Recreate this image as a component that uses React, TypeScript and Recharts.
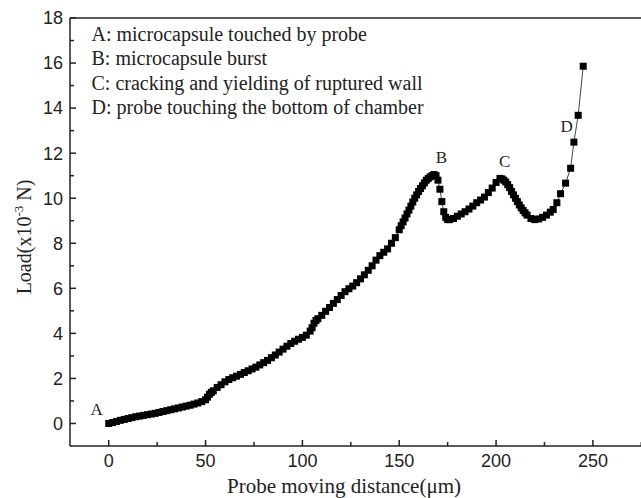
import { ScatterChart, Scatter, XAxis, YAxis, ReferenceLine } from "recharts";

// probe moving distance (µm) and load (x10^-3 N)
const distance = [
  0, 2, 4, 6, 8, 10, 12, 14, 16, 18, 20, 22, 24, 26, 28, 30, 32, 34, 36, 38, 40, 42, 44, 46, 48,
  50, 51, 52, 53, 54, 56, 58, 60, 62, 64, 66, 68, 70, 72, 74, 76, 78, 80, 82, 84, 86, 88, 90, 92, 94,
  96, 98, 100, 102, 104, 105, 106, 107, 108, 110, 112, 114, 116, 118, 120, 122, 124, 126, 128, 130,
  132, 134, 136, 138, 140, 142, 144, 146, 148,
  150, 151, 152, 153, 154, 155, 156, 157, 158, 159, 160, 161, 162, 163, 164, 165, 166, 167, 168,
  169, 170, 171, 172, 173, 174, 175, 176, 178, 180, 182, 184, 186, 188, 190, 192, 194, 196, 198,
  200, 202, 203, 204, 205, 206, 207, 208, 209, 210, 211, 212, 213, 214, 215, 216, 218, 220, 222,
  224, 226, 228, 229.5, 231.4, 233.3, 235.9, 238.5, 240.2, 242.4, 245,
];
const load = [
  0, 0.04, 0.09, 0.14, 0.18, 0.22, 0.26, 0.3, 0.33, 0.36, 0.39, 0.42, 0.45, 0.49, 0.53, 0.57, 0.61,
  0.65, 0.69, 0.73, 0.77, 0.81, 0.86, 0.91, 0.97,
  1.05, 1.17, 1.3, 1.38, 1.45, 1.6, 1.72, 1.85, 1.95, 2.03, 2.1, 2.18, 2.26, 2.34, 2.42, 2.5, 2.6,
  2.7, 2.8, 2.92, 3.04, 3.17, 3.3, 3.43, 3.55, 3.65, 3.74, 3.82, 3.92, 4.1, 4.25, 4.45, 4.57, 4.65,
  4.8, 4.98, 5.15, 5.33, 5.5, 5.68, 5.85, 5.98, 6.1, 6.25, 6.42, 6.6, 6.8, 7.0, 7.25, 7.45, 7.6, 7.75,
  8.0, 8.25,
  8.6, 8.78, 8.95, 9.12, 9.3, 9.47, 9.65, 9.83, 10.0, 10.15, 10.3, 10.43, 10.55, 10.68, 10.8, 10.88,
  10.95, 11.0, 11.05,
  11.0, 10.8, 10.4, 9.85, 9.4, 9.15, 9.05, 9.05, 9.1, 9.2, 9.3, 9.4, 9.52, 9.65, 9.8, 9.92, 10.05,
  10.25, 10.45,
  10.7, 10.88, 10.86, 10.8, 10.72, 10.6, 10.47, 10.3, 10.15, 10.0, 9.85, 9.7, 9.57, 9.45, 9.35, 9.25,
  9.1, 9.05, 9.08,
  9.15, 9.25, 9.38, 9.5, 9.8, 10.2, 10.67, 11.33, 12.49, 13.68, 15.86,
];

// point labels on the curve
const markLabels = ["A", "B", "C", "D"];
const markX = [-6.2, 171.8, 204.5, 236.4];
const markY = [0.36, 11.58, 11.4, 12.92];

const notes = [
  "A: microcapsule touched by probe",
  "B: microcapsule burst",
  "C: cracking and yielding of ruptured wall",
  "D: probe touching the bottom of chamber",
];

const xTicks = [0, 25, 50, 75, 100, 125, 150, 175, 200, 225, 250, 275];
const yTicks = [0, 1, 2, 3, 4, 5, 6, 7, 8, 9, 10, 11, 12, 13, 14, 15, 16, 17, 18];

const points = distance.map((d, i) => ({ x: d, y: load[i] }));
const marks = markLabels.map((t, i) => ({ x: markX[i], y: markY[i], label: t }));

const AXIS = "#222";
const SANS = "'Liberation Sans', Arial, sans-serif";
const SERIF = "'Liberation Serif', 'Times New Roman', serif";

const Square = (props: any) => {
  const { cx, cy } = props;
  if (cx == null || cy == null) return null;
  return <rect x={cx - 3.5} y={cy - 3.5} width={7} height={7} fill="#000" />;
};

const MarkText = (props: any) => {
  const { cx, cy, payload } = props;
  return (
    <text x={cx} y={cy} textAnchor="middle" fontFamily={SERIF} fontSize={17} fill="#222">
      {payload.label}
    </text>
  );
};

const XTick = (props: any) => {
  const { x, y, payload } = props;
  const axisY = y - 8;
  const major = payload.value % 50 === 0;
  return (
    <g>
      <line x1={x} x2={x} y1={axisY} y2={axisY - (major ? 6 : 4)} stroke={AXIS} strokeWidth={1.5} />
      {major && (
        <text x={x} y={y} dy="0.71em" textAnchor="middle" fontFamily={SANS} fontSize={18} fill="#222">
          {payload.value}
        </text>
      )}
    </g>
  );
};

const YTick = (props: any) => {
  const { x, y, payload } = props;
  const axisX = x + 7;
  const major = payload.value % 2 === 0;
  return (
    <g>
      <line x1={axisX} x2={axisX + (major ? 6 : 4)} y1={y} y2={y} stroke={AXIS} strokeWidth={1.5} />
      {major && (
        <text x={x} y={y} dy="0.355em" textAnchor="end" fontFamily={SANS} fontSize={18} fill="#222">
          {payload.value}
        </text>
      )}
    </g>
  );
};

export default function App() {
  return (
    <div style={{ position: "absolute", left: 0, top: 0, width: 641, height: 498, overflow: "hidden", background: "#fff" }}>
      <ScatterChart width={700} height={498} margin={{ top: 18, right: 49, bottom: 0, left: 0 }}>
        <XAxis
          type="number"
          dataKey="x"
          domain={[-20, 280]}
          ticks={xTicks}
          interval={0}
          allowDataOverflow
          height={52}
          tickSize={0}
          tickMargin={8}
          tick={<XTick />}
          axisLine={{ stroke: AXIS, strokeWidth: 1.5 }}
        />
        <YAxis
          type="number"
          dataKey="y"
          domain={[-1, 18]}
          ticks={yTicks}
          interval={0}
          allowDataOverflow
          width={70}
          tickSize={0}
          tickMargin={7}
          tick={<YTick />}
          axisLine={{ stroke: AXIS, strokeWidth: 1.5 }}
        />
        <ReferenceLine y={18} stroke={AXIS} strokeWidth={1.5} />
        <Scatter
          data={points}
          line={{ stroke: "#444", strokeWidth: 1 }}
          shape={<Square />}
          isAnimationActive={false}
        />
        <Scatter data={marks} shape={<MarkText />} isAnimationActive={false} />
      </ScatterChart>
      <svg width={641} height={498} style={{ position: "absolute", left: 0, top: 0, pointerEvents: "none" }}>
        {notes.map((n, i) => (
          <text key={n} x={91.5} y={40.7 + i * 24.4} fontFamily={SERIF} fontSize={20} fill="#222">
            {n}
          </text>
        ))}
        <text x={344} y={493} textAnchor="middle" fontFamily={SERIF} fontSize={21} fill="#222">
          Probe moving distance(μm)
        </text>
        <text transform="translate(31,237) rotate(-90)" textAnchor="middle" fontFamily={SERIF} fontSize={20} fill="#222">
          Load(x10
          <tspan dy={-8} fontSize={13}>-3</tspan>
          <tspan dy={8}> N)</tspan>
        </text>
      </svg>
    </div>
  );
}
